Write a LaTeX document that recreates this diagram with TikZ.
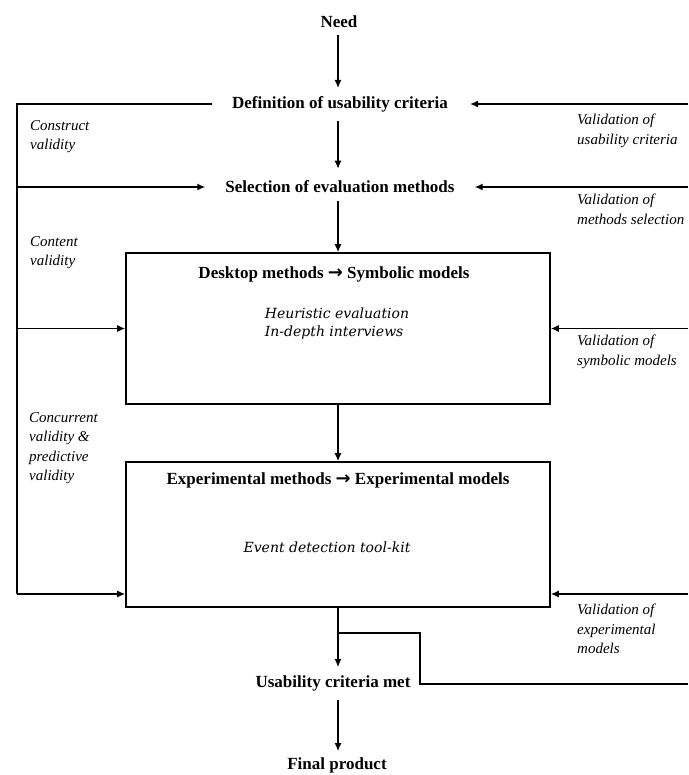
\documentclass[tikz,border=0pt]{standalone}
\usepackage{fontspec}
\setmainfont{Liberation Serif}
\newfontfamily\boxfont{DejaVu Serif}
\newfontfamily\arrowfont{DejaVu Sans}
\usetikzlibrary{arrows.meta}

\newcommand{\flowarrow}{{\arrowfont\bfseries\fontsize{18}{18}\selectfont →}}

\begin{document}
\begin{tikzpicture}[x=1pt, y=-1pt,
  title/.style={font=\fontsize{17}{20}\selectfont\bfseries, inner sep=0pt},
  side/.style={font=\fontsize{15}{19.5}\selectfont\itshape, align=left,
               anchor=north west, inner sep=0pt},
  inner/.style={font=\boxfont\itshape\fontsize{14}{18}\selectfont,
                align=left, inner sep=0pt},
  flow/.style={line width=1.3pt, -{Latex[length=8pt,width=7pt]}},
  link/.style={line width=1.3pt},
  stagebox/.style={draw, line width=1.6pt, inner sep=0pt, minimum width=424pt}]

\useasboundingbox (0,0) rectangle (688,775);

% main chain
\node[title] (need) at (339,22) {Need};
\node[title] (def)  at (340,104) {Definition of usability criteria};
\node[title] (sel)  at (340,187) {Selection of evaluation methods};

\node[stagebox, minimum height=151pt] (desk) at (338,328.5) {};
\node[title] (desktitle) at (334,274) {Desktop methods \flowarrow{} Symbolic models};
\node[inner] (desktext) at (337,324) {Heuristic evaluation\\In-depth interviews};

\node[stagebox, minimum height=145pt] (exp) at (338,534.5) {};
\node[title] (exptitle) at (338,480) {Experimental methods \flowarrow{} Experimental models};
\node[inner] (exptext) at (327,547) {Event detection tool-kit};

\node[title] (umet) at (333,683) {Usability criteria met};
\node[title] (fp)   at (337,765) {Final product};

% vertical flow
\draw[flow, shorten <=7pt, shorten >=8pt] (need.south -| exp.south) -- (def.north -| exp.south);
\draw[flow, shorten <=9pt, shorten >=12pt] (def.south -| exp.south) -- (sel.north -| exp.south);
\draw[flow, shorten <=8pt] (sel.south -| exp.south) -- (desk.north -| exp.south);
\draw[flow] (desk.south -| exp.south) -- (exp.north);
\draw[flow, shorten >=8pt] (exp.south) -- (exp.south |- umet.north);
\draw[flow, shorten <=9pt, shorten >=6pt] (umet.south -| exp.south) -- (fp.north -| exp.south);

% validity loop on the left
\coordinate (lbot) at (17,594);
\draw[link] ([xshift=-20pt]def.west) -| (lbot);
\draw[flow] (lbot) -- (lbot -| exp.west);
\draw[flow] (lbot |- sel) -- ([xshift=-20pt]sel.west);
\draw[flow] (lbot |- desk) -- (desk.west);

% validation inputs from the right
\coordinate (r1) at (688,104);
\coordinate (r2) at (688,187);
\coordinate (r3) at (688,328.5);
\coordinate (r4) at (688,594);
\draw[flow] (r1) -- ([xshift=22pt]def.east);
\draw[flow] (r2) -- ([xshift=20pt]sel.east);
\draw[flow] (r3) -- (desk.east);
\draw[flow] (r4) -- (r4 -| exp.east);

% feedback branch below the experimental stage
\coordinate (fork) at (338,633);
\coordinate (bend) at (420,684);
\coordinate (r5) at (688,684);
\draw[link] (fork) -| (bend) -- (r5);

% side labels
\node[side] (lab1) at (30,120) {Construct\\validity};
\node[side] (lab2) at (30,236) {Content\\validity};
\node[side] (lab3) at (29,412) {Concurrent\\validity \&\\predictive\\validity};

\node[side] (val1) at (577,114) {Validation of\\usability criteria};
\node[side] (val2) at (577,194) {Validation of\\methods selection};
\node[side] (val3) at (577,335) {Validation of\\symbolic models};
\node[side] (val4) at (577,604) {Validation of\\experimental\\models};
\end{tikzpicture}
\end{document}
